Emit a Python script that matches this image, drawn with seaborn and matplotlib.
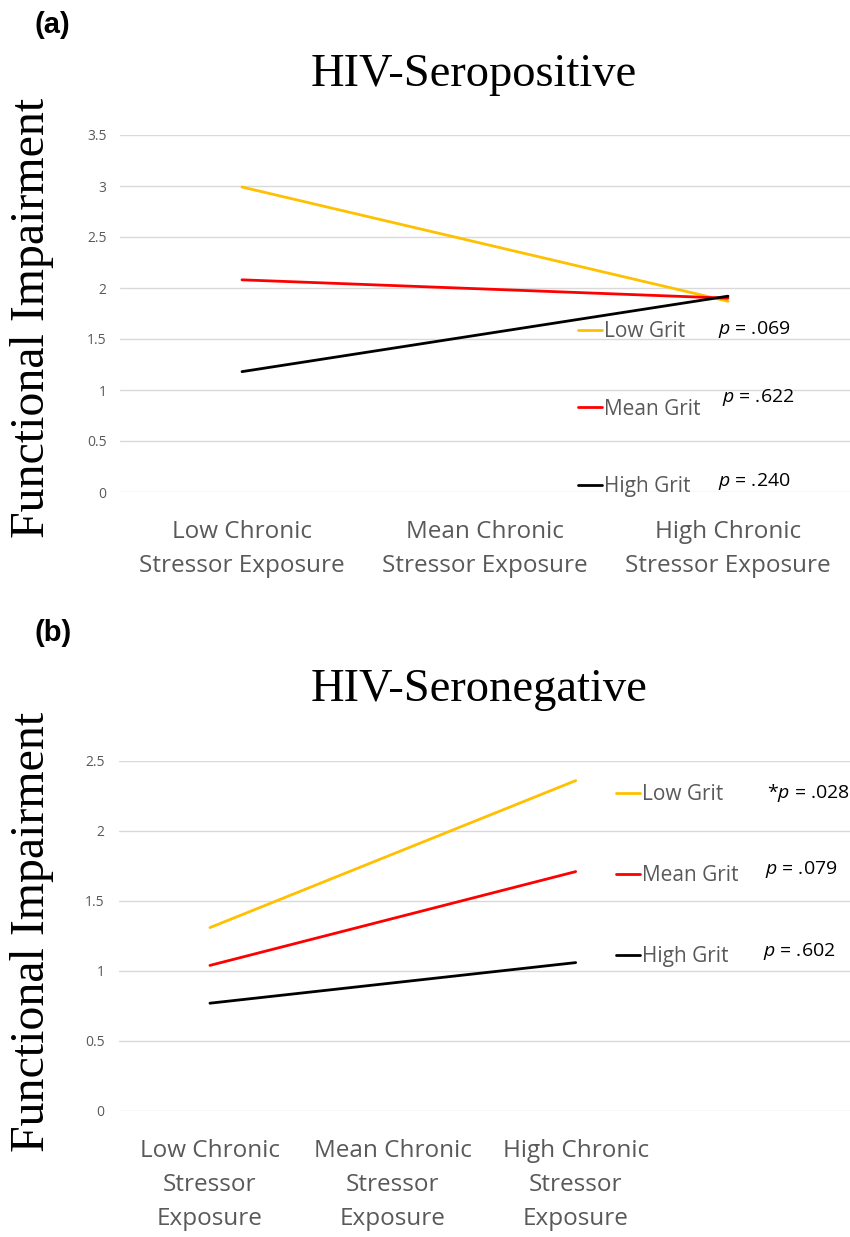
import matplotlib
matplotlib.use("Agg")
import matplotlib.pyplot as plt
import seaborn as sns
import pandas as pd
from matplotlib.lines import Line2D

# ---------------- data ----------------
grit_levels = ["Low Grit", "Mean Grit", "High Grit"]
grit_colors = ["#FFC000", "#FF0000", "#000000"]

pos_categories = ["Low Chronic\nStressor Exposure", "Mean Chronic\nStressor Exposure",
                  "High Chronic\nStressor Exposure"]
pos_low = [2.99, 1.87]
pos_mean = [2.08, 1.90]
pos_high = [1.18, 1.92]
pos_pvals = ["p = .069", "p = .622", "p = .240"]
pos_yticks = [0, 0.5, 1, 1.5, 2, 2.5, 3, 3.5]
pos_ytick_labels = ["0", "0.5", "1", "1.5", "2", "2.5", "3", "3.5"]

neg_categories = ["Low Chronic\nStressor\nExposure", "Mean Chronic\nStressor\nExposure",
                  "High Chronic\nStressor\nExposure"]
neg_low = [1.31, 2.36]
neg_mean = [1.04, 1.71]
neg_high = [0.77, 1.06]
neg_pvals = ["*p = .028", "p = .079", "p = .602"]
neg_yticks = [0, 0.5, 1, 1.5, 2, 2.5]
neg_ytick_labels = ["0", "0.5", "1", "1.5", "2", "2.5"]

# ---------------- style ----------------
sns.set_theme(style="white")
plt.rcParams["font.family"] = ["Open Sans", "DejaVu Sans"]
plt.rcParams["text.color"] = "black"
plt.rcParams["mathtext.fontset"] = "custom"
plt.rcParams["mathtext.it"] = "Open Sans:italic"
plt.rcParams["mathtext.rm"] = "Open Sans"

GRAY = "#595959"
GRID = "#D9D9D9"
W, H = 850, 1237
fig = plt.figure(figsize=(W / 100, H / 100), dpi=100)


def px_axes(left, top, right, bottom):
    return fig.add_axes([left / W, 1 - bottom / H, (right - left) / W, (bottom - top) / H])


def build_df(cats, low, mean, high):
    rows = []
    for g, vals in zip(grit_levels, [low, mean, high]):
        xs = [0, len(cats) - 1]
        for x, v in zip(xs, vals):
            rows.append({"x": x, "y": v, "grit": g})
    return pd.DataFrame(rows)


def style_axes(ax, cats, yticks, ylabels, ymax, xmax):
    ax.set_ylim(0, ymax)
    ax.set_xlim(-0.5, xmax)
    ax.set_yticks(yticks)
    ax.set_yticklabels(ylabels, fontsize=10, color=GRAY)
    ax.set_xticks(range(len(cats)))
    ax.set_xticklabels(cats, fontsize=17.5, color=GRAY, linespacing=1.55)
    ax.tick_params(axis="x", length=0, pad=20)
    ax.tick_params(axis="y", length=0, pad=10)
    ax.grid(axis="y", color=GRID, linewidth=1.0)
    ax.grid(axis="x", visible=False)
    for s in ax.spines.values():
        s.set_visible(False)
    ax.set_xlabel("")
    ax.set_ylabel("")
    ax.set_axisbelow(True)


handles = [Line2D([], [], color=c, linewidth=2.0) for c in grit_colors]

# ---------------- panel (a) ----------------
ax1 = px_axes(120.5, 135, 849.5, 492)
df1 = build_df(pos_categories, pos_low, pos_mean, pos_high)
sns.lineplot(data=df1, x="x", y="y", hue="grit", palette=grit_colors,
             hue_order=grit_levels, linewidth=2.0, ax=ax1, legend=False)
style_axes(ax1, pos_categories, pos_yticks, pos_ytick_labels, 3.5, 2.5)

leg1 = ax1.legend(handles, grit_levels, loc="upper left",
                  bbox_to_anchor=((578 - 120.5) / 729, 1 - (321 - 135) / 357),
                  frameon=False, fontsize=15, handlelength=1.15, handletextpad=0.1,
                  labelspacing=2.72, borderpad=0, borderaxespad=0)
for t in leg1.get_texts():
    t.set_color(GRAY)

for p, yy, xx in zip(pos_pvals, [329, 397, 481], [718, 722, 718]):
    fig.text(xx / W, 1 - yy / H, "$\\mathit{p}$" + p[1:], fontsize=14, color="black",
             va="center", ha="left")

fig.text(474 / W, 1 - 75 / H, "HIV-Seropositive", fontsize=33.5, color="black",
         family="Liberation Serif", ha="center", va="center")
fig.text(32 / W, 1 - 318 / H, "Functional Impairment", fontsize=34.5, color="black",
         family="Liberation Serif", rotation=90, ha="center", va="center")
fig.text(52 / W, 1 - 25 / H, "(a)", fontsize=21, fontweight="bold", color="black",
         family="Liberation Sans", ha="center", va="center")

# ---------------- panel (b) ----------------
ax2 = px_axes(118.5, 761, 850, 1111)
df2 = build_df(neg_categories, neg_low, neg_mean, neg_high)
sns.lineplot(data=df2, x="x", y="y", hue="grit", palette=grit_colors,
             hue_order=grit_levels, linewidth=2.0, ax=ax2, legend=False)
style_axes(ax2, neg_categories, neg_yticks, neg_ytick_labels, 2.5, 3.5)

leg2 = ax2.legend(handles, grit_levels, loc="upper left",
                  bbox_to_anchor=((616 - 118.5) / 731.5, 1 - (784 - 761) / 350),
                  frameon=False, fontsize=15, handlelength=1.15, handletextpad=0.1,
                  labelspacing=2.88, borderpad=0, borderaxespad=0)
for t in leg2.get_texts():
    t.set_color(GRAY)

for p, yy, xx in zip(neg_pvals, [793, 869, 952], [767, 765, 763]):
    if p.startswith("*"):
        s = "*$\\mathit{p}$" + p[2:]
    else:
        s = "$\\mathit{p}$" + p[1:]
    fig.text(xx / W, 1 - yy / H, s, fontsize=14, color="black", va="center", ha="left")

fig.text(479 / W, 1 - 690 / H, "HIV-Seronegative", fontsize=33.5, color="black",
         family="Liberation Serif", ha="center", va="center")
fig.text(32 / W, 1 - 932 / H, "Functional Impairment", fontsize=34.5, color="black",
         family="Liberation Serif", rotation=90, ha="center", va="center")
fig.text(53 / W, 1 - 633 / H, "(b)", fontsize=21, fontweight="bold", color="black",
         family="Liberation Sans", ha="center", va="center")

fig.savefig("out.png", dpi=100, facecolor="white")
